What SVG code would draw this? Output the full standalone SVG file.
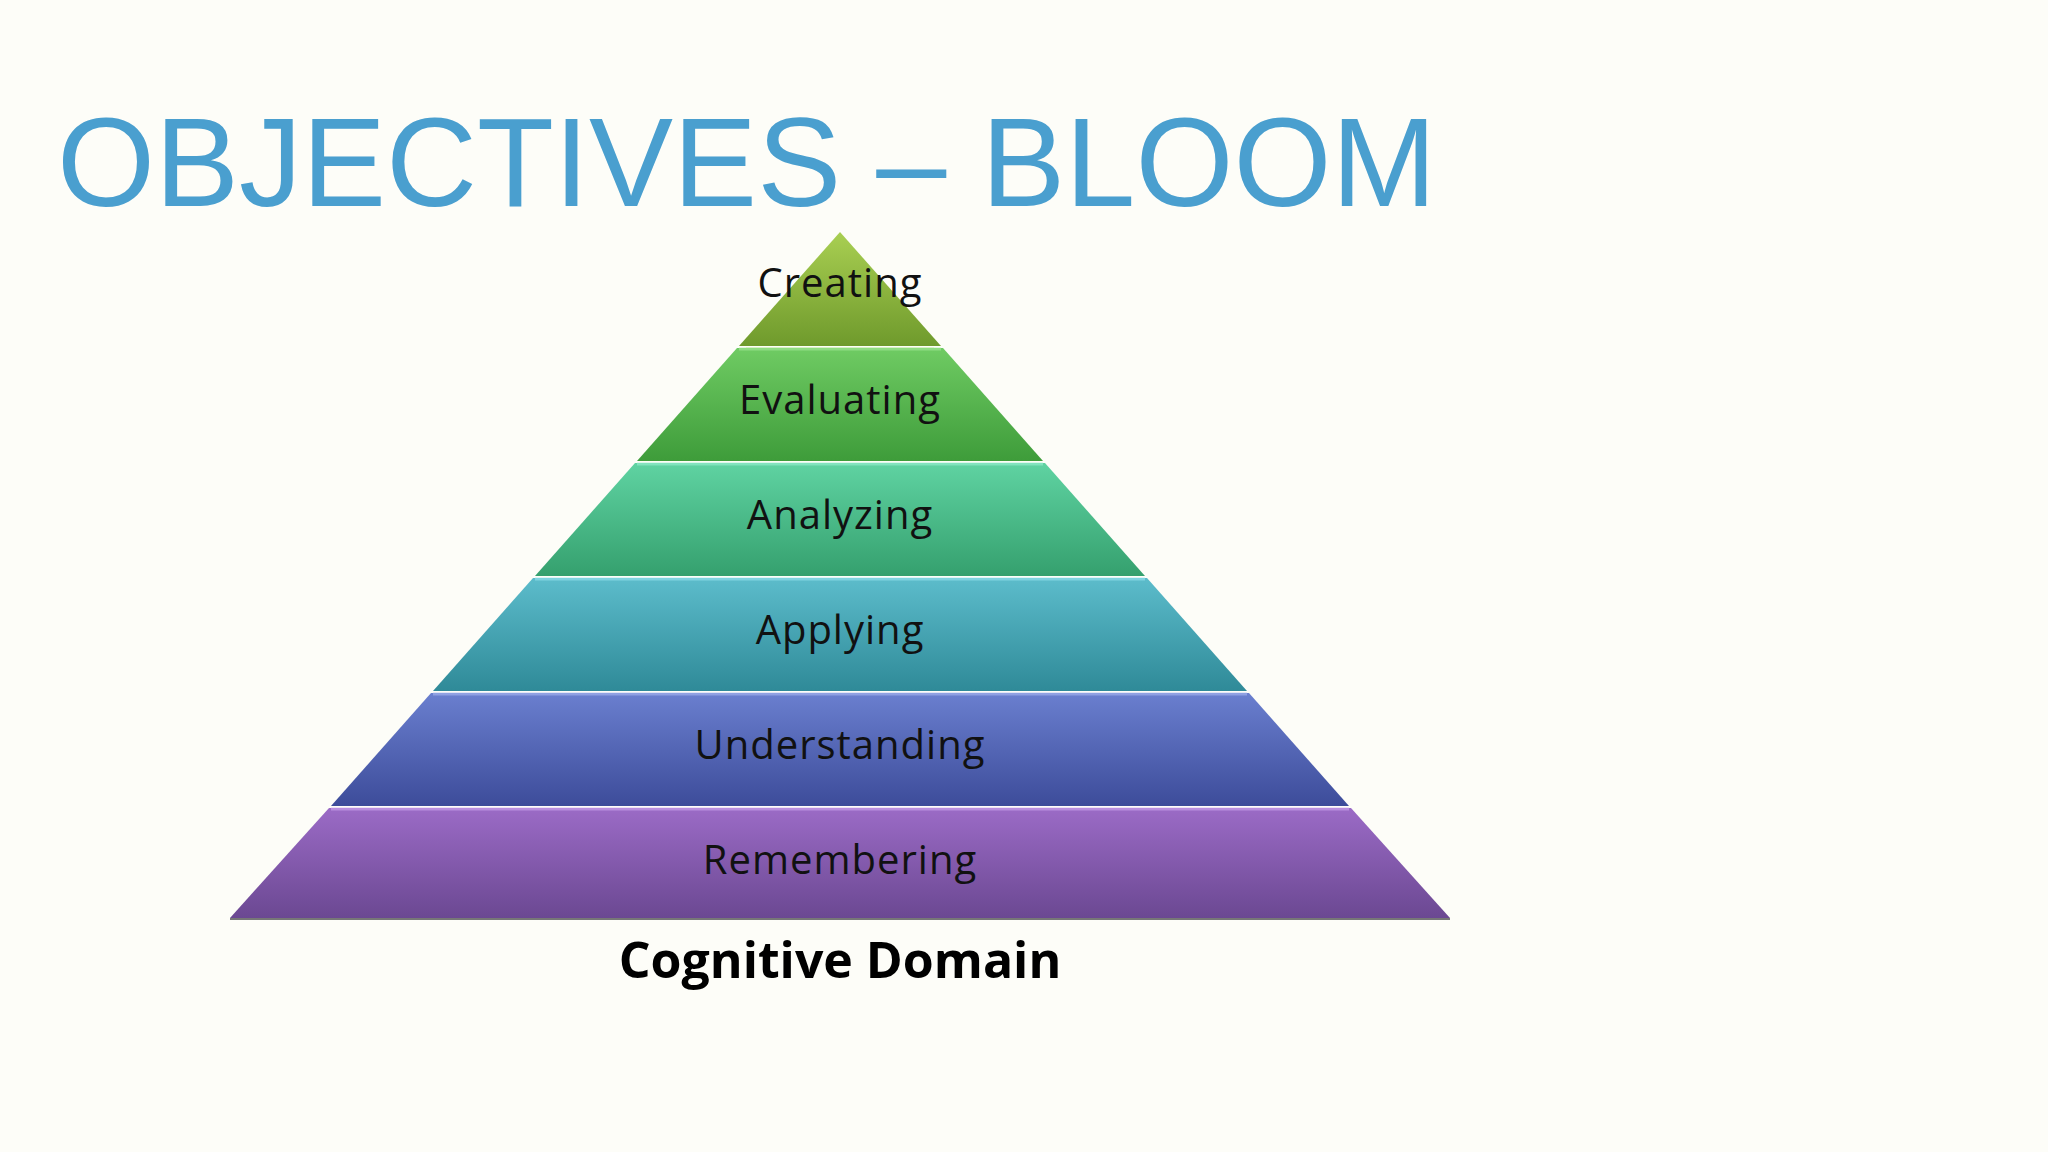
<svg xmlns="http://www.w3.org/2000/svg" width="2048" height="1152" viewBox="0 0 2048 1152">
<style>
.lbl{font-family:"Open Sans","Liberation Sans",sans-serif;font-size:40px;fill:#111;text-anchor:middle;letter-spacing:1px}
.ttl{font-family:"Liberation Sans",Arial,sans-serif;font-size:126px;fill:#4a9fcf}
.cap{font-family:"Open Sans","Liberation Sans",sans-serif;font-size:50px;font-weight:bold;fill:#000;text-anchor:middle}
.edge{stroke-width:3;stroke-opacity:0.6}
</style>
<defs>
<linearGradient id="g1" x1="0" y1="0" x2="0" y2="1"><stop offset="0" stop-color="#a9cf52"/><stop offset="1" stop-color="#6f9a2c"/></linearGradient>
<linearGradient id="g2" x1="0" y1="0" x2="0" y2="1"><stop offset="0" stop-color="#6fcb63"/><stop offset="1" stop-color="#3e9c3a"/></linearGradient>
<linearGradient id="g3" x1="0" y1="0" x2="0" y2="1"><stop offset="0" stop-color="#5fd3a2"/><stop offset="1" stop-color="#35a06e"/></linearGradient>
<linearGradient id="g4" x1="0" y1="0" x2="0" y2="1"><stop offset="0" stop-color="#5cbccb"/><stop offset="1" stop-color="#2f8a98"/></linearGradient>
<linearGradient id="g5" x1="0" y1="0" x2="0" y2="1"><stop offset="0" stop-color="#6a7fcf"/><stop offset="1" stop-color="#3d4c9a"/></linearGradient>
<linearGradient id="g6" x1="0" y1="0" x2="0" y2="1"><stop offset="0" stop-color="#9b6bc6"/><stop offset="1" stop-color="#6b4892"/></linearGradient>
</defs>
<rect width="2048" height="1152" fill="#fdfdf8"/>
<text class="ttl" x="57" y="206">OBJECTIVES – BLOOM</text>
<g id="creating"><polygon points="840,232 941,346 739,346" fill="url(#g1)"/><line class="edge" x1="746" y1="349" x2="934" y2="349" stroke="#c8e88a"/><text class="lbl" x="840" y="297">Creating</text></g>
<g id="evaluating"><polygon points="737,348 943,348 1043,461 637,461" fill="url(#g2)"/><line class="edge" x1="739" y1="349" x2="941" y2="349" stroke="#a6e89a"/><text class="lbl" x="840" y="414">Evaluating</text></g>
<g id="analyzing"><polygon points="635,463 1045,463 1145,576 535,576" fill="url(#g3)"/><line class="edge" x1="637" y1="464" x2="1043" y2="464" stroke="#9af0d0"/><text class="lbl" x="840" y="529">Analyzing</text></g>
<g id="applying"><polygon points="533,578 1147,578 1247,691 433,691" fill="url(#g4)"/><line class="edge" x1="535" y1="579" x2="1145" y2="579" stroke="#9ae4f0"/><text class="lbl" x="840" y="644">Applying</text></g>
<g id="understanding"><polygon points="431,693 1249,693 1349,806 331,806" fill="url(#g5)"/><line class="edge" x1="433" y1="694" x2="1247" y2="694" stroke="#a8b8f0"/><text class="lbl" x="840" y="759">Understanding</text></g>
<g id="remembering"><polygon points="329,808 1351,808 1450,918 230,918" fill="url(#g6)"/><line class="edge" x1="331" y1="809" x2="1349" y2="809" stroke="#d0a8f0"/><line x1="230" y1="919" x2="1450" y2="919" stroke="#777" stroke-width="2"/><text class="lbl" x="840" y="874">Remembering</text></g>
<text class="cap" x="840" y="978">Cognitive Domain</text>
</svg>
